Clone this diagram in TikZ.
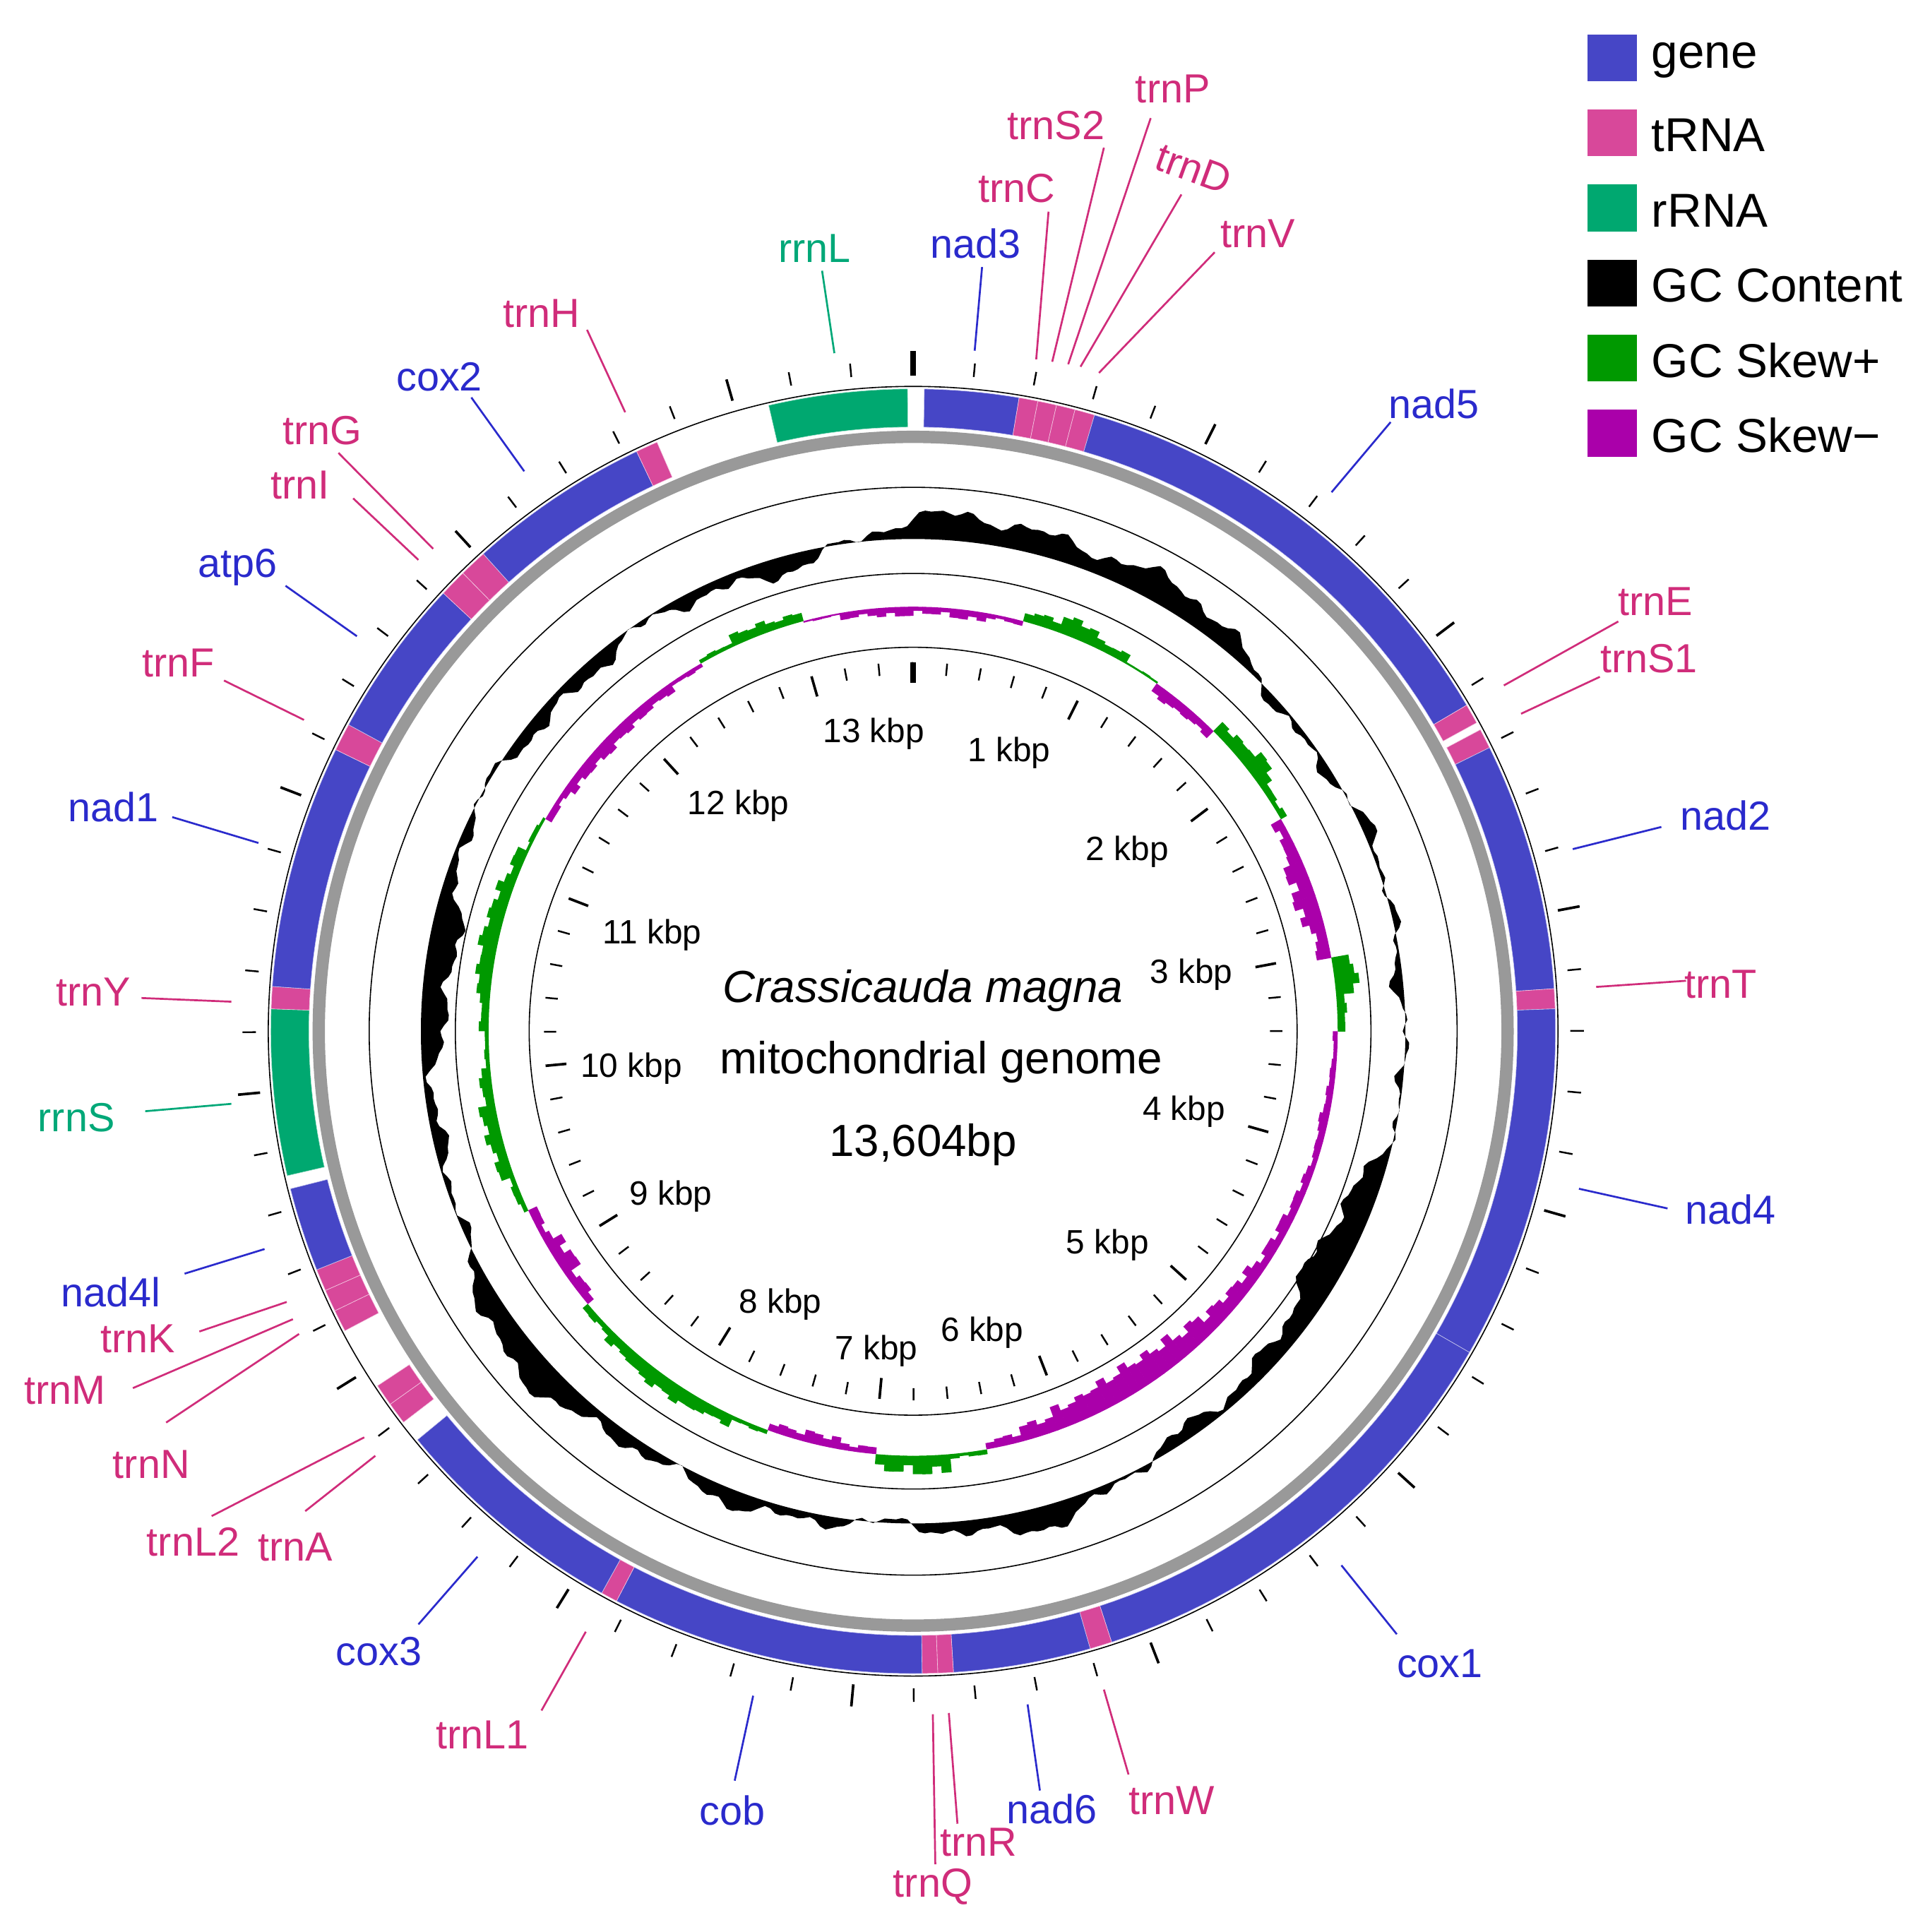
\documentclass[tikz,border=0pt]{standalone}
\usepackage{fontspec}
\setmainfont{Liberation Sans}
\definecolor{gene}{HTML}{4646C6}
\definecolor{trna}{HTML}{D8489A}
\definecolor{rrna}{HTML}{00A870}
\definecolor{lgene}{HTML}{2A2ACC}
\definecolor{ltrna}{HTML}{D02C7A}
\definecolor{lrrna}{HTML}{00A878}
\definecolor{skp}{HTML}{009900}
\definecolor{skm}{HTML}{AA00AA}
\begin{document}
\begin{tikzpicture}[x=0.05cm,y=-0.05cm,
  lbl/.style={font=\fontsize{47}{50}\selectfont,inner sep=0pt},
  kbl/.style={font=\fontsize{39}{42}\selectfont,inner sep=0pt},
  leg/.style={font=\fontsize{55}{58}\selectfont,inner sep=0pt,anchor=west},
  ctr/.style={font=\fontsize{52}{56}\selectfont,inner sep=0pt},
  declare function={
    hs(\t,\n)=sin(360*frac(\n*(\t/360)));
    gcf(\t)=14*sin(2*\t+40)+9*sin(5*\t+10)+6*sin(11*\t+70)+4*hs(\t,29)+2.5*hs(\t,67)+1.5*hs(\t,131);
  }]
\useasboundingbox (0,0) rectangle (1568,1570);
\def\cx{742}\def\cy{838}
% GC content
\fill[black,even odd rule] plot[domain=0:360,samples=541] ({\cx+(400+gcf(\x))*sin(\x)},{\cy-(400+gcf(\x))*cos(\x)}) -- cycle (\cx,\cy) circle[radius=400];
% GC skew (5 degree bins, 4 wedges each)
\foreach \v [count=\k from 0] in {-6,-8,-4,10,16,8,2,-10,-8,12,18,6,-10,-18,-20,-12,20,8,-4,-6,-8,-6,-8,-10,-10,-14,-16,-20,-24,-26,-24,-20,-14,-8,4,16,14,-6,-10,-8,4,10,14,14,10,6,-10,-16,-8,6,12,14,10,4,8,14,16,14,10,4,-6,-10,-12,-10,-8,-4,4,10,8,-2,-6,-8}{
  \foreach \j in {0,1,2,3}{
    \pgfmathsetmacro\aa{5*\k+1.25*\j}
    \pgfmathsetmacro\bb{\aa+1.3}
    \pgfmathsetmacro\rr{345+\v*(0.55+0.45*abs(hs(\aa,47)))}
    \ifdim\v pt>0pt \def\cc{skp}\else\def\cc{skm}\fi
    \fill[\cc] ({\cx+345*sin(\aa)},{\cy-345*cos(\aa)}) -- ({\cx+\rr*sin(\aa)},{\cy-\rr*cos(\aa)}) -- ({\cx+\rr*sin(\bb)},{\cy-\rr*cos(\bb)}) -- ({\cx+345*sin(\bb)},{\cy-345*cos(\bb)}) -- cycle;
  }}
% circles
\draw[line width=1.3] (\cx,\cy) circle[radius=442] (\cx,\cy) circle[radius=372] (\cx,\cy) circle[radius=312];
\fill[gray!80,even odd rule] (\cx,\cy) circle[radius=488] (\cx,\cy) circle[radius=478];
\newcommand\feat[3]{\fill[#3,draw=white!70!#3,line width=0.5] plot[domain=#1:#2,samples=30] ({\cx+522*sin(\x)},{\cy-522*cos(\x)}) -- plot[domain=#2:#1,samples=30] ({\cx+491*sin(\x)},{\cy-491*cos(\x)}) -- cycle;}
\feat{1}{9.5}{gene}
\feat{9.5}{11.2}{trna}\feat{11.2}{12.9}{trna}\feat{12.9}{14.6}{trna}\feat{14.6}{16.4}{trna}
\feat{16.4}{59.5}{gene}
\feat{59.5}{61.3}{trna}\feat{62}{63.8}{trna}
\feat{63.8}{86.2}{gene}\feat{86.2}{88}{trna}
\feat{88}{120}{gene}\feat{120}{162}{gene}\feat{162}{164}{trna}
\feat{164}{176.4}{gene}\feat{176.4}{177.8}{trna}\feat{177.8}{179.2}{trna}
\feat{179.2}{207.5}{gene}\feat{207.5}{209}{trna}
\feat{209}{230.5}{gene}
\feat{232.5}{234.5}{trna}\feat{234.5}{236.5}{trna}
\feat{242.2}{244.2}{trna}\feat{244.2}{246.2}{trna}\feat{246.2}{248.2}{trna}
\feat{248.2}{255.8}{gene}
\feat{257}{272}{rrna}\feat{272}{274}{trna}
\feat{274}{296}{gene}\feat{296}{298.5}{trna}
\feat{298.5}{313}{gene}\feat{313}{315.5}{trna}\feat{315.5}{318}{trna}
\feat{318}{334.5}{gene}\feat{334.5}{336.5}{trna}
\feat{347}{359.5}{rrna}
\draw[line width=1.3] (\cx,\cy) circle[radius=524];
% ticks
\foreach \i in {0,...,68}{
  \pgfmathsetmacro\a{\i*200/13604*360}
  \pgfmathtruncatemacro\m{mod(\i,5)}
  \ifnum\m=0
    \draw[line width=3] ({\cx+533*sin(\a)},{\cy-533*cos(\a)}) -- ({\cx+551*sin(\a)},{\cy-551*cos(\a)});
    \draw[line width=3] ({\cx+300*sin(\a)},{\cy-300*cos(\a)}) -- ({\cx+283*sin(\a)},{\cy-283*cos(\a)});
  \else
    \draw[line width=2] ({\cx+534*sin(\a)},{\cy-534*cos(\a)}) -- ({\cx+545*sin(\a)},{\cy-545*cos(\a)});
    \draw[line width=2] ({\cx+300*sin(\a)},{\cy-300*cos(\a)}) -- ({\cx+290*sin(\a)},{\cy-290*cos(\a)});
  \fi}
\draw[line width=6] (\cx,{\cy-533}) -- (\cx,{\cy-553});
\draw[line width=6] (\cx,{\cy-300}) -- (\cx,{\cy-283});
% kbp labels
\node[kbl] (k1) at (820,612) {1 kbp};
\node[kbl] (k2) at (916,692) {2 kbp};
\node[kbl] (k3) at (968,792) {3 kbp};
\node[kbl] (k4) at (962,903) {4 kbp};
\node[kbl] (k5) at (900,1012) {5 kbp};
\node[kbl] (k6) at (798,1083) {6 kbp};
\node[kbl] (k7) at (712,1098) {7 kbp};
\node[kbl] (k8) at (634,1060) {8 kbp};
\node[kbl] (k9) at (545,972) {9 kbp};
\node[kbl] (k10) at (513,868) {10 kbp};
\node[kbl] (k11) at (530,760) {11 kbp};
\node[kbl] (k12) at (600,655) {12 kbp};
\node[kbl] (k13) at (710,596) {13 kbp};
% center
\node[ctr] (t1) at (750,805) {\itshape Crassicauda magna};
\node[ctr] (t2) at (765,863) {mitochondrial genome};
\node[ctr] (t3) at (750,930) {13,604bp};
% labels
\newcommand\lab[7][0]{\node[lbl,text=#3,rotate=#1] (n#2) at (#4) {#2};
  \coordinate (a#2) at (#5); \coordinate (b#2) at (#6);
  \draw[#3,line width=2.2] (a#2) -- (b#2);}
\lab{nad3}{lgene}{793,198}{792,285}{798,217}{}
\lab{trnC}{ltrna}{826,153}{842,292}{852,172}{}
\lab{trnS2}{ltrna}{858,102}{855,294}{897,120}{}
\lab{trnP}{ltrna}{953,72}{868,296}{935,96}{}
\lab[-20]{trnD}{ltrna}{970,137}{878,298}{960,158}{}
\lab{trnV}{ltrna}{1022,190}{893,303}{987,205}{}
\lab{nad5}{lgene}{1165,328}{1082,400}{1130,343}{}
\lab{trnE}{ltrna}{1345,489}{1222,557}{1315,505}{}
\lab{trnS1}{ltrna}{1340,535}{1236,580}{1300,550}{}
\lab{nad2}{lgene}{1402,663}{1278,690}{1350,672}{}
\lab{trnT}{ltrna}{1398,800}{1297,802}{1370,797}{}
\lab{nad4}{lgene}{1406,983}{1283,966}{1355,982}{}
\lab{cox1}{lgene}{1170,1352}{1090,1272}{1135,1328}{}
\lab{trnW}{ltrna}{952,1463}{897,1373}{917,1442}{}
\lab{nad6}{lgene}{855,1470}{835,1385}{845,1455}{}
\lab{trnR}{ltrna}{795,1497}{771,1392}{778,1482}{}
\lab{trnQ}{ltrna}{758,1533}{758,1393}{760,1515}{}
\lab{cob}{lgene}{595,1471}{612,1378}{597,1447}{}
\lab{trnL1}{ltrna}{392,1410}{476,1326}{440,1390}{}
\lab{cox3}{lgene}{308,1342}{388,1265}{340,1320}{}
\lab{trnA}{ltrna}{240,1257}{305,1183}{248,1228}{}
\lab{trnL2}{ltrna}{157,1253}{296,1168}{172,1232}{}
\lab{trnN}{ltrna}{123,1190}{243,1084}{135,1156}{}
\lab{trnM}{ltrna}{53,1130}{238,1072}{108,1128}{}
\lab{trnK}{ltrna}{112,1088}{233,1058}{162,1082}{}
\lab{nad4l}{lgene}{90,1050}{215,1015}{150,1035}{}
\lab{rrnS}{lrrna}{62,908}{188,897}{118,903}{}
\lab{trnY}{ltrna}{76,806}{188,814}{115,811}{}
\lab{nad1}{lgene}{92,656}{210,685}{140,664}{}
\lab{trnF}{ltrna}{145,539}{247,585}{182,553}{}
\lab{atp6}{lgene}{193,461}{290,517}{232,476}{}
\lab{trnI}{ltrna}{244,394}{340,455}{287,405}{}
\lab{trnG}{ltrna}{262,350}{352,446}{275,368}{}
\lab{cox2}{lgene}{357,306}{426,383}{383,323}{}
\lab{trnH}{ltrna}{440,255}{508,335}{477,268}{}
\lab{rrnL}{lrrna}{662,202}{678,287}{668,220}{}
% legend
\foreach \c/\t [count=\k from 0] in {gene/gene,trna/tRNA,rrna/rRNA,black/GC Content,skp/GC Skew+,skm/GC Skew−}{
  \fill[\c] (1290,{28+\k*61}) rectangle (1330,{66+\k*61});
  \node[leg] (leg\k) at (1342,{49+\k*61}) {\t};}
\end{tikzpicture}
\end{document}
